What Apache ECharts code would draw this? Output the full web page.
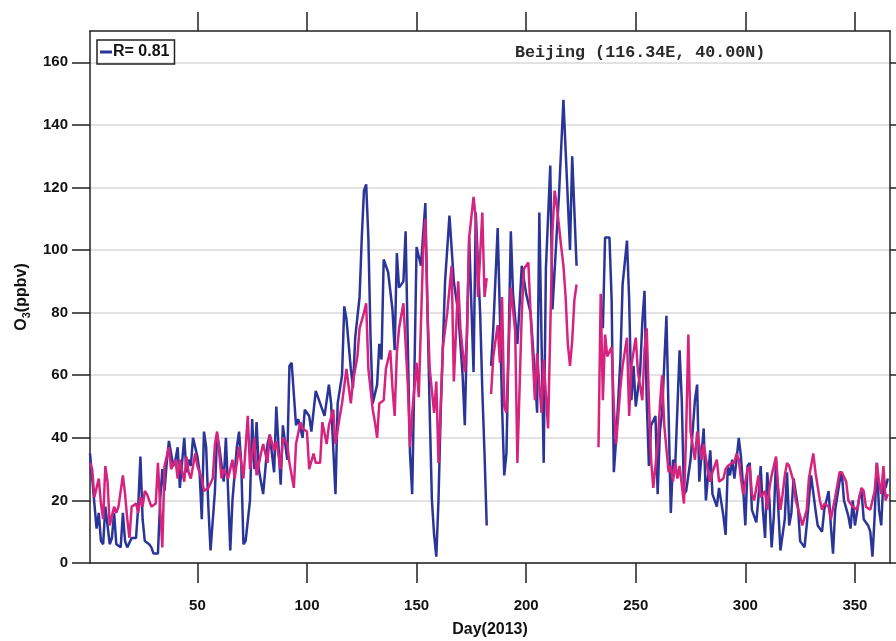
<!DOCTYPE html>
<html>
<head>
<meta charset="utf-8">
<title>O3 Beijing 2013</title>
<script src="https://cdn.jsdelivr.net/npm/echarts@6/dist/echarts.min.js"></script>
<style>
html, body { margin: 0; padding: 0; background: #fff; }
#main { width: 896px; height: 641px; }
</style>
</head>
<body>
<div id="main"></div>
<script>
// observed (blue)
var obsDay = [1,2,4,5,6,7,8,9,10,11,12,13,15,16,17,18,20,22,23,24,25,26,28,29,30,32,33,34,35,36,37,39,40,41,42,44,45,46,47,48,50,51,52,53,54,55,56,58,59,60,62,63,64,65,66,68,69,70,71,72,
  74,75,76,77,78,80,82,83,85,86,88,89,91,92,93,95,96,98,99,101,102,104,106,108,110,111,113,114,116,117,118,120,121,122,124,125,126,127,128,129,130,132,133,134,135,137,139,140,141,142,144,145,146,
  147,148,149,150,152,154,155,156,157,158,159,160,161,163,165,167,169,171,172,174,176,177,179,180,181,182,183,184,185,187,188,189,190,191,193,194,196,198,200,202,204,205,206,208,209,211,212,214,215,217,218,220,221,223,224,
  235,236,238,239,240,241,242,243,244,246,247,248,249,250,252,253,254,255,256,257,259,260,261,262,264,265,266,267,268,270,271,272,273,275,277,278,279,281,282,284,285,287,288,290,291,
  292,293,294,295,296,297,298,299,300,301,302,303,305,306,307,308,309,310,311,312,313,314,315,316,318,319,320,321,322,324,325,327,328,330,332,333,335,336,338,339,340,341,343,344,345,347,348,349,350,352,353,354,356,357,358,359,360,361,362,363,364,365];
var obsO3 = [35,27,11,16,7,6,18,12,6,8,16,6,5,16,7,5,8,8,18,34,14,7,6,5,3,3,20,30,23,32,39,31,33,37,24,40,29,33,31,40,34,29,14,42,37,18,4,23,41,37,26,40,23,4,20,37,42,32,6,7,
  20,46,30,45,30,22,38,41,29,50,25,44,33,63,64,44,46,40,49,47,42,55,51,47,57,51,22,51,60,82,78,62,56,72,85,104,119,121,104,72,51,57,70,65,97,93,81,68,99,88,90,106,70,
  35,22,60,101,95,115,80,48,20,9,2,20,48,90,111,90,80,60,44,104,61,112,80,55,35,12,null,63,75,107,80,50,28,35,106,86,70,95,86,80,60,48,112,32,94,127,81,106,118,148,132,100,130,95,null,
  75,104,104,84,29,39,52,65,89,103,84,52,63,50,61,77,87,52,31,44,47,22,42,48,79,47,16,33,31,68,52,22,23,33,52,57,26,43,20,36,22,18,24,15,9,
  31,28,33,27,33,40,34,24,12,31,32,17,13,21,31,17,8,29,20,5,15,33,18,4,14,29,12,16,27,18,7,5,12,28,17,12,10,17,23,12,3,17,26,29,20,15,11,20,12,21,23,14,12,10,2,15,32,17,12,27,24,27];

// model (magenta)
var modDay = [1,2,3,5,6,7,8,9,10,11,12,13,14,16,17,18,19,20,22,23,24,25,26,27,28,29,31,32,33,34,35,36,37,38,40,41,42,44,45,46,47,49,50,52,53,55,57,58,59,60,61,62,64,66,67,69,70,71,73,
  74,76,77,79,80,82,83,85,86,88,89,91,92,94,95,97,98,100,101,103,104,106,107,109,110,112,113,115,116,118,120,121,123,124,126,127,128,130,131,132,133,135,136,138,139,140,141,142,144,145,146,
  147,148,150,151,153,154,155,156,157,158,159,160,161,162,164,166,167,169,170,172,173,174,176,177,178,180,181,182,183,184,185,187,188,189,190,191,193,195,196,198,199,201,202,204,205,207,208,210,212,213,214,216,217,218,219,220,221,222,223,224,
  233,234,235,236,237,239,240,241,242,243,244,246,247,248,250,251,253,254,255,256,257,258,260,261,262,263,265,266,267,268,269,270,272,273,274,275,277,278,280,281,283,284,285,287,288,290,291,
  292,294,295,296,297,298,299,301,302,303,304,305,306,307,308,309,310,311,312,314,315,316,317,318,319,320,322,323,325,326,328,329,331,332,334,335,336,338,339,341,343,344,346,347,349,351,352,353,354,355,357,358,359,360,361,362,363,364,365];
var modO3 = [32,30,21,27,19,14,31,26,12,15,18,16,18,28,22,14,8,18,19,16,21,18,23,22,20,18,19,32,18,5,31,34,37,30,33,27,33,26,34,29,27,35,31,27,23,24,27,38,42,35,27,30,27,33,27,37,32,27,47,
  30,40,28,35,38,32,41,36,39,30,40,38,32,24,38,45,43,42,30,35,32,32,45,38,44,49,38,47,51,62,51,58,66,75,80,83,62,49,45,40,51,52,62,68,56,47,67,75,83,70,57,
  37,48,64,53,100,110,80,62,55,48,58,32,50,69,80,95,58,90,75,61,73,104,117,110,85,112,85,91,null,54,66,76,64,85,50,48,88,74,32,80,94,96,80,52,67,48,65,43,106,119,114,101,95,85,70,63,71,84,89,null,
  37,86,52,73,66,69,50,38,47,56,63,72,47,63,72,61,52,68,75,52,33,24,38,50,60,44,29,31,26,32,27,31,19,42,73,42,33,42,33,38,29,26,29,33,26,27,30,
  31,32,32,35,33,27,22,30,31,22,20,24,28,21,22,23,17,24,28,34,24,17,22,28,32,31,26,20,15,12,17,27,35,29,20,17,19,18,14,21,29,29,26,20,18,17,21,24,23,18,17,20,23,32,26,22,31,20,22];

var xTicks = [50, 100, 150, 200, 250, 300, 350];
var yTicks = [0, 20, 40, 60, 80, 100, 120, 140, 160];

function pairs(days, vals) {
    var out = [];
    for (var i = 0; i < days.length; i++) {
        out.push([days[i], vals[i] === null ? '-' : vals[i]]);
    }
    return out;
}

var labelFont = "'Liberation Sans Narrow', 'Liberation Sans', Arial, sans-serif";
var axisColor = '#222';

var myChart = echarts.init(document.getElementById('main'), null, {renderer: 'canvas'});
var option = {
    animation: false,
    backgroundColor: '#fff',
    title: {
        text: 'Beijing (116.34E, 40.00N)',
        left: 515,
        top: 44,
        padding: 0,
        textStyle: {fontFamily: "'Liberation Mono', 'DejaVu Sans Mono', monospace", fontWeight: 'bold', fontSize: 16.7, color: '#2a2a2a'}
    },
    legend: {
        left: 97,
        top: 40,
        data: ['R= 0.81'],
        icon: 'rect',
        itemWidth: 12,
        itemHeight: 3,
        itemGap: 2,
        padding: [4, 5, 4, 3],
        borderColor: '#222',
        borderWidth: 1.5,
        borderRadius: 0,
        textStyle: {fontFamily: labelFont, fontWeight: 'bold', fontSize: 16, color: '#111', padding: [0, 0, 0, -4]}
    },
    grid: {left: 90, right: 6, top: 31, bottom: 78, outerBoundsMode: 'none', containLabel: false},
    xAxis: [{
        type: 'value',
        min: 1,
        max: 366,
        position: 'bottom',
        name: 'Day(2013)',
        nameLocation: 'middle',
        nameGap: 59,
        nameTextStyle: {fontFamily: labelFont, fontWeight: 'bold', fontSize: 16, color: '#111'},
        axisLine: {onZero: false, lineStyle: {color: axisColor, width: 1.5}},
        axisTick: {customValues: xTicks, length: 20, inside: false, lineStyle: {color: axisColor, width: 1.5}},
        axisLabel: {customValues: xTicks, margin: 35, fontFamily: labelFont, fontWeight: 'bold', fontSize: 15, color: '#111'},
        splitLine: {show: false}
    }, {
        type: 'value',
        min: 1,
        max: 366,
        position: 'top',
        axisLine: {onZero: false, lineStyle: {color: axisColor, width: 1.5}},
        axisTick: {customValues: xTicks, length: 19, inside: false, lineStyle: {color: axisColor, width: 1.5}},
        axisLabel: {show: false},
        splitLine: {show: false}
    }],
    yAxis: [{
        type: 'value',
        min: 0,
        max: 170,
        position: 'left',
        name: '{o|O}{s|3}{o|(ppbv)}',
        nameLocation: 'middle',
        nameRotate: 90,
        nameGap: 57,
        nameTextStyle: {
            rich: {
                o: {fontFamily: labelFont, fontWeight: 'bold', fontSize: 16, color: '#111'},
                s: {fontFamily: labelFont, fontWeight: 'bold', fontSize: 11, color: '#111', padding: [10, 0, 0, 0]}
            }
        },
        axisLine: {onZero: false, lineStyle: {color: axisColor, width: 1.5}},
        axisTick: {customValues: yTicks, length: 18, inside: false, lineStyle: {color: axisColor, width: 1.5}},
        axisLabel: {customValues: yTicks, margin: 22, fontFamily: labelFont, fontWeight: 'bold', fontSize: 15, color: '#111'},
        splitLine: {show: true, lineStyle: {color: '#d9d9d9', width: 1.5}}
    }, {
        type: 'value',
        min: 0,
        max: 170,
        position: 'right',
        axisLine: {show: true, onZero: false, lineStyle: {color: axisColor, width: 1.5}},
        axisTick: {customValues: yTicks, length: 6, inside: false, lineStyle: {color: axisColor, width: 1.5}},
        axisLabel: {show: false},
        splitLine: {show: false}
    }],
    series: [{
        name: 'R= 0.81',
        type: 'line',
        xAxisIndex: 0,
        yAxisIndex: 0,
        data: pairs(obsDay, obsO3),
        showSymbol: false,
        symbol: 'none',
        connectNulls: false,
        itemStyle: {color: '#2b3598'},
        lineStyle: {color: '#2b3598', width: 2.5}
    }, {
        name: 'Model',
        type: 'line',
        xAxisIndex: 0,
        yAxisIndex: 0,
        data: pairs(modDay, modO3),
        showSymbol: false,
        symbol: 'none',
        connectNulls: false,
        itemStyle: {color: '#d6247e'},
        lineStyle: {color: '#d6247e', width: 2.5}
    }]
};
myChart.setOption(option);
</script>
</body>
</html>
